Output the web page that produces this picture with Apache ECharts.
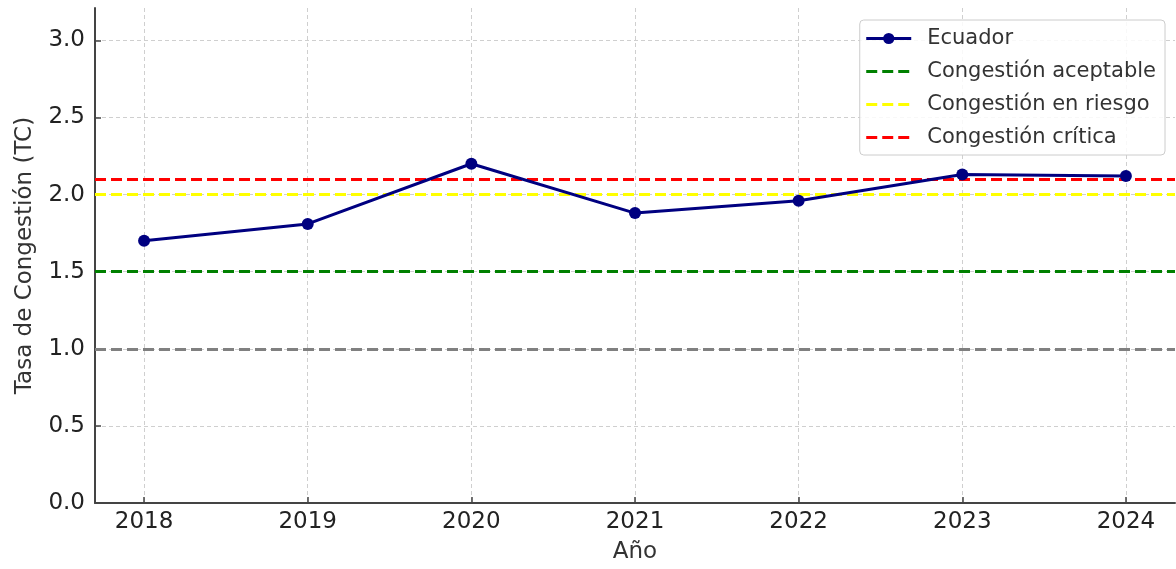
<!DOCTYPE html>
<html>
<head>
<meta charset="utf-8">
<script src="https://cdn.jsdelivr.net/npm/echarts@6/dist/echarts.min.js"></script>
<style>
  html, body { margin: 0; padding: 0; background: #fff; }
  #chart { width: 1176px; height: 569px; }
</style>
</head>
<body>
<div id="chart"></div>
<script>
  // datos del gráfico
  var years = [2018, 2019, 2020, 2021, 2022, 2023, 2024];
  var ecuadorTC = [1.70, 1.81, 2.20, 1.88, 1.96, 2.13, 2.12];
  var yTicks = [0, 0.5, 1.0, 1.5, 2.0, 2.5, 3.0];
  var umbralAceptable = 1.5;
  var umbralRiesgo = 2.0;
  var umbralCritico = 2.1;
  var lineaReferencia = 1.0;

  var font = 'DejaVu Sans';
  var chart = echarts.init(document.getElementById('chart'));

  var pares = years.map(function (y, i) { return [y, ecuadorTC[i]]; });

  // serie vacía que solo lleva la línea horizontal (markLine)
  function umbral(nombre, valor, color) {
    return {
      name: nombre,
      type: 'line',
      data: [],
      symbol: 'none',
      lineStyle: { color: color, width: 3, type: [11, 5] },
      itemStyle: { color: color },
      markLine: {
        silent: true,
        symbol: 'none',
        label: { show: false },
        lineStyle: { color: color, width: 3, type: [11, 5] },
        data: [{ yAxis: valor }]
      },
      z: 3
    };
  }

  function itemLeyenda(nombre, color) {
    return { name: nombre, itemStyle: { opacity: 0 }, lineStyle: { color: color, width: 3, type: [11, 5] } };
  }

  chart.setOption({
    animation: false,
    grid: { left: 95, right: 1, top: 8, bottom: 66 },
    legend: {
      orient: 'vertical',
      top: 20,
      right: 11,
      data: [
        { name: 'Ecuador', lineStyle: { width: 3 } },
        itemLeyenda('Congestión aceptable', '#008000'),
        itemLeyenda('Congestión en riesgo', '#ffff00'),
        itemLeyenda('Congestión crítica', '#ff0000')
      ],
      itemWidth: 45,
      itemHeight: 14,
      itemGap: 10,
      padding: [7, 9, 6, 5],
      backgroundColor: 'rgba(255,255,255,0.85)',
      borderColor: '#cccccc',
      borderWidth: 1,
      borderRadius: 4,
      textStyle: { fontFamily: font, fontSize: 21, color: '#333', lineHeight: 23, padding: [0, 0, 0, 11] }
    },
    xAxis: {
      type: 'value',
      min: 2017.7,
      max: 2024.3,
      name: 'Año',
      nameLocation: 'middle',
      nameGap: 38,
      nameTextStyle: { fontFamily: font, fontSize: 23, color: '#333' },
      axisLine: { lineStyle: { color: '#444', width: 2 } },
      axisTick: { inside: true, length: 6, customValues: years, lineStyle: { color: '#444', width: 1.5 } },
      axisLabel: {
        customValues: years,
        margin: 8,
        fontFamily: font, fontSize: 23, color: '#222',
        formatter: function (v) { return String(v); }
      },
      splitLine: { show: true, lineStyle: { color: '#cfcfcf', width: 1, type: [4, 3] } }
    },
    yAxis: {
      type: 'value',
      min: 0,
      max: 3.21,
      name: 'Tasa de Congestión (TC)',
      nameLocation: 'middle',
      nameGap: 58,
      nameTextStyle: { fontFamily: font, fontSize: 23, color: '#333' },
      axisLine: { show: true, lineStyle: { color: '#444', width: 2 } },
      axisTick: { show: true, inside: true, length: 6, customValues: yTicks, lineStyle: { color: '#444', width: 1.5 } },
      axisLabel: {
        customValues: yTicks,
        margin: 10,
        fontFamily: font, fontSize: 23, color: '#222',
        formatter: function (v) { return v.toFixed(1); }
      },
      splitLine: { show: true, showMinLine: false, lineStyle: { color: '#cfcfcf', width: 1, type: [4, 3] } }
    },
    series: [
      {
        name: 'Ecuador',
        type: 'line',
        data: pares,
        symbol: 'circle',
        symbolSize: 12,
        lineStyle: { color: '#000080', width: 3 },
        itemStyle: { color: '#000080' },
        z: 5
      },
      umbral('Congestión aceptable', umbralAceptable, '#008000'),
      umbral('Congestión en riesgo', umbralRiesgo, '#ffff00'),
      umbral('Congestión crítica', umbralCritico, '#ff0000'),
      umbral('referencia', lineaReferencia, '#808080')
    ]
  });
</script>
</body>
</html>
